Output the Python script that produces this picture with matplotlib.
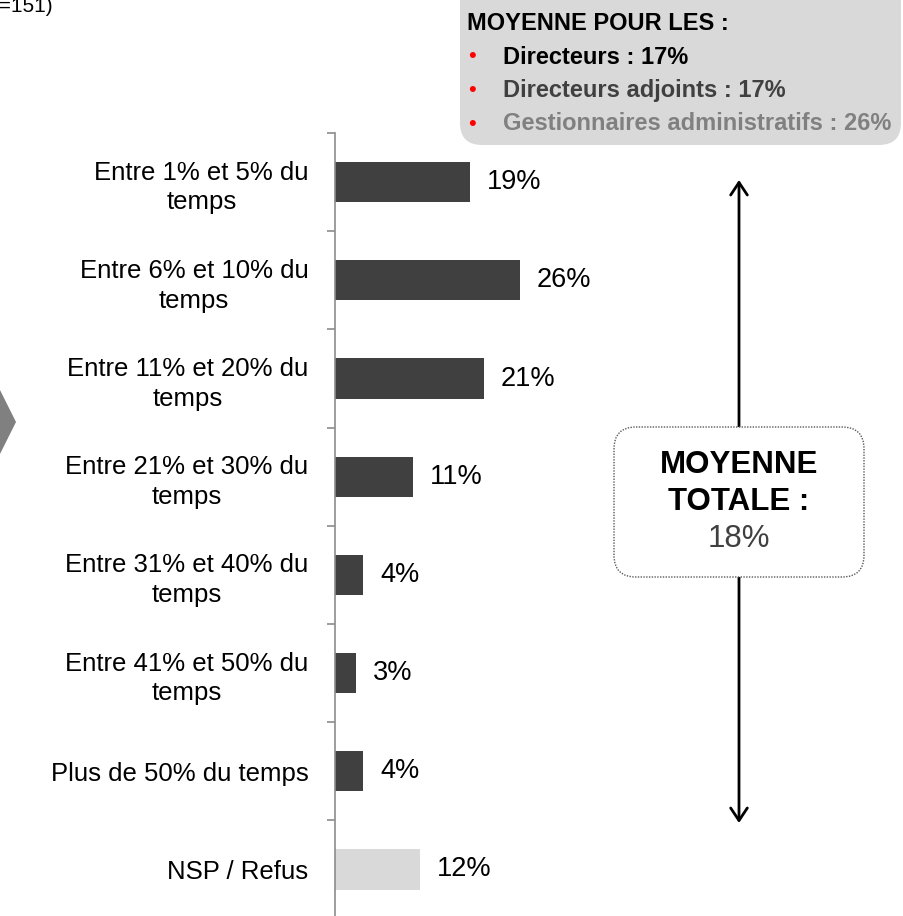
import matplotlib
matplotlib.use("Agg")
import matplotlib.pyplot as plt
from matplotlib.patches import FancyBboxPatch, Polygon

plt.rcParams["font.family"] = ["Liberation Sans", "DejaVu Sans"]

# ---- data ----
categories = ["Entre 1% et 5% du\ntemps", "Entre 6% et 10% du\ntemps",
              "Entre 11% et 20% du\ntemps", "Entre 21% et 30% du\ntemps",
              "Entre 31% et 40% du\ntemps", "Entre 41% et 50% du\ntemps",
              "Plus de 50% du temps", "NSP / Refus"]
values = [19, 26, 21, 11, 4, 3, 4, 12]
groups = ["Directeurs", "Directeurs adjoints", "Gestionnaires administratifs"]
group_means = [17, 17, 26]
total_mean = 18
base_note = "(n=151)"

W, H = 904, 916
DARK, LIGHT = "#404040", "#d9d9d9"
group_colors = ["#000000", "#404040", "#808080"]

fig = plt.figure(figsize=(W / 100, H / 100), dpi=100)

# main bar axes, placed in pixel terms
ax_left, ax_top, step = 335, 133, 98.2
ax_bot = ax_top + step * len(categories)
ax = fig.add_axes([ax_left / W, (H - ax_bot) / H, (W - ax_left) / W,
                   (ax_bot - ax_top) / H])
ypos = list(range(len(categories)))
colors = [LIGHT if c.startswith("NSP") else DARK for c in categories]
ax.barh(ypos, values, height=0.41, color=colors)
ax.set_xlim(0, (W - ax_left) / 7.1)
ax.set_ylim(len(categories) - 0.5, -0.5)

for y, v in zip(ypos, values):
    ax.annotate(f"{v}%", (v, y), xytext=(12, 0), textcoords="offset points",
                va="center", ha="left", fontsize=19.5, color="black")

ax.set_yticks(ypos)
ax.set_yticklabels(categories, fontsize=18.5, multialignment="center",
                   linespacing=1.3)
ax.tick_params(axis="y", which="major", length=0, pad=19)
ax.set_yticks([i - 0.5 for i in range(len(categories) + 1)], minor=True)
ax.tick_params(axis="y", which="minor", length=6, width=1.2, color="#8c8c8c")
ax.xaxis.set_visible(False)
for s in ["top", "right", "bottom"]:
    ax.spines[s].set_visible(False)
ax.spines["left"].set_color("#8c8c8c")
ax.spines["left"].set_linewidth(1.2)

# overlay in pixel coordinates for the annotations
ov = fig.add_axes([0, 0, 1, 1])
ov.set_xlim(0, W)
ov.set_ylim(H, 0)
ov.axis("off")
ov.patch.set_alpha(0)

ov.text(53, 7, base_note, ha="right", va="center", fontsize=15)
ov.add_patch(Polygon([(0, 390), (16, 422), (0, 454)], closed=True,
                     facecolor="#808080", edgecolor="none"))

# group averages box
ov.add_patch(FancyBboxPatch((460, -30), 441, 175,
                            boxstyle="round,pad=0,rounding_size=22",
                            facecolor=LIGHT, edgecolor="none"))
ov.text(467, 23, "MOYENNE POUR LES :", fontsize=17, fontweight="bold",
        va="center", ha="left")
for i, (g, m, c) in enumerate(zip(groups, group_means, group_colors)):
    y = 57 + i * 33.5
    ov.text(472, y, "\u2022", color="red", fontsize=16, va="center", ha="center")
    ov.text(503, y, f"{g} : {m}%", fontsize=17, fontweight="bold", color=c,
            va="center", ha="left")

# total-average double arrow and box
ov.annotate("", xy=(739, 180), xytext=(739, 823),
            arrowprops=dict(arrowstyle="<->,head_length=0.9,head_width=0.6",
                            color="black", lw=2, shrinkA=0, shrinkB=0))
ov.add_patch(FancyBboxPatch((614, 427), 250, 150,
                            boxstyle="round,pad=0,rounding_size=22",
                            facecolor="white", edgecolor="#595959",
                            linestyle=(0, (1, 1)), linewidth=1, zorder=3))
ov.text(739, 465, "MOYENNE", fontsize=22.5, fontweight="bold", ha="center",
        va="center", zorder=4)
ov.text(739, 502, "TOTALE :", fontsize=22.5, fontweight="bold", ha="center",
        va="center", zorder=4)
ov.text(739, 539, f"{total_mean}%", fontsize=22.5, color=DARK, ha="center",
        va="center", zorder=4)

fig.savefig("out.png", dpi=100)
